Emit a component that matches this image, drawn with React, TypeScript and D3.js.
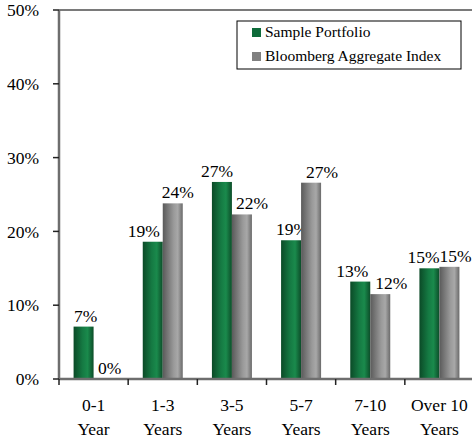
import * as d3 from 'd3';
import { useEffect, useRef } from 'react';

const categories = ['0-1|Year', '1-3|Years', '3-5|Years', '5-7|Years', '7-10|Years', 'Over 10|Years'];
const portfolio = [7.1, 18.6, 26.7, 18.8, 13.2, 15.0];
const benchmark = [0, 23.8, 22.3, 26.6, 11.5, 15.2];
const seriesNames = ['Sample Portfolio', 'Bloomberg Aggregate Index'];
const yTicks = [0, 10, 20, 30, 40, 50];

// hand-placed label nudges (px), like the original's manual label placement
const portfolioLabelDx = [2, -9, -5, 1, -8, -6];
const benchmarkLabelDx = [6, 5, 10, 11, 11, 6];

const FONT = '"Liberation Serif", "DejaVu Serif", serif';

const App = () => {
  const svgRef = useRef<SVGSVGElement>(null);

  useEffect(() => {
    if (!svgRef.current) return;
    const svg = d3.select(svgRef.current);
    svg.selectAll('*').remove();

    const width = 472;
    const left = 59;
    const top = 10;
    const bottom = 379;
    const right = 474;

    const defs = svg.append('defs');
    const grad = (id: string, stops: [number, string][]) => {
      const g = defs.append('linearGradient').attr('id', id).attr('x1', '0%').attr('x2', '100%').attr('y1', '0%').attr('y2', '0%');
      stops.forEach(([o, c]) => g.append('stop').attr('offset', `${o}%`).attr('stop-color', c));
    };
    grad('gGreen', [[0, '#0b4a27'], [45, '#157a43'], [70, '#1a8a4c'], [100, '#0c4d29']]);
    grad('gGray', [[0, '#5a5a5a'], [55, '#9a9a9a'], [75, '#a8a8a8'], [100, '#6a6a6a']]);

    const x = d3.scaleBand<number>().domain(d3.range(categories.length)).range([left, right]);
    const y = d3.scaleLinear().domain([0, 50]).range([bottom, top]);
    const barW = 20;

    const g = svg.append('g');

    // top border
    g.append('line').attr('x1', left).attr('x2', width).attr('y1', top).attr('y2', top)
      .attr('stroke', '#7a7a7a').attr('stroke-width', 2);

    const series = [
      { values: portfolio, fill: 'url(#gGreen)', offset: -barW, dx: portfolioLabelDx },
      { values: benchmark, fill: 'url(#gGray)', offset: 0, dx: benchmarkLabelDx },
    ];

    series.forEach((s) => {
      s.values.forEach((v, i) => {
        const cx = (x(i) ?? 0) + x.bandwidth() / 2;
        const bx = cx + s.offset;
        if (v > 0) {
          g.append('rect').attr('x', bx).attr('y', y(v)).attr('width', barW)
            .attr('height', bottom - y(v)).attr('fill', s.fill);
        }
        g.append('text').attr('x', bx + barW / 2 + s.dx[i]).attr('y', y(v) - 5)
          .attr('text-anchor', 'middle').attr('font-family', FONT).attr('font-size', 17.5)
          .attr('fill', '#000').text(`${Math.round(v)}%`);
      });
    });

    // y axis
    g.append('line').attr('x1', left).attr('x2', left).attr('y1', top).attr('y2', bottom)
      .attr('stroke', '#6e6e6e').attr('stroke-width', 2.5);
    yTicks.forEach((t) => {
      g.append('line').attr('x1', left - 6).attr('x2', left).attr('y1', y(t)).attr('y2', y(t))
        .attr('stroke', '#222').attr('stroke-width', 1.5);
      g.append('text').attr('x', 39).attr('y', y(t)).attr('dy', '0.35em')
        .attr('text-anchor', 'end').attr('font-family', FONT).attr('font-size', 17.5)
        .text(`${t}%`);
    });

    // x axis
    g.append('line').attr('x1', left).attr('x2', width).attr('y1', bottom).attr('y2', bottom)
      .attr('stroke', '#6e6e6e').attr('stroke-width', 2.5);
    categories.forEach((c, i) => {
      const bx = x(i) ?? 0;
      g.append('line').attr('x1', bx).attr('x2', bx).attr('y1', bottom).attr('y2', bottom + 6)
        .attr('stroke', '#222').attr('stroke-width', 1.5);
      const [l1, l2] = c.split('|');
      const cx = bx + x.bandwidth() / 2;
      g.append('text').attr('x', cx).attr('y', 411).attr('text-anchor', 'middle')
        .attr('font-family', FONT).attr('font-size', 17.5).text(l1);
      g.append('text').attr('x', cx).attr('y', 435).attr('text-anchor', 'middle')
        .attr('font-family', FONT).attr('font-size', 17.5).text(l2);
    });

    // legend
    const lg = g.append('g');
    lg.append('rect').attr('x', 237).attr('y', 21).attr('width', 224).attr('height', 48)
      .attr('fill', '#fff').attr('stroke', '#000').attr('stroke-width', 1);
    const legendColors = ['#0e6b3a', '#808080'];
    seriesNames.forEach((n, i) => {
      const ly = 28 + i * 24;
      lg.append('rect').attr('x', 252).attr('y', ly).attr('width', 9).attr('height', 9)
        .attr('fill', legendColors[i]);
      lg.append('text').attr('x', 265).attr('y', ly + 9).attr('font-family', FONT)
        .attr('font-size', 15.5).text(n);
    });
  }, []);

  return (
    <svg ref={svgRef} width={472} height={439}
      style={{ position: 'absolute', left: 0, top: 0, background: '#fff' }} />
  );
};

export default App;
